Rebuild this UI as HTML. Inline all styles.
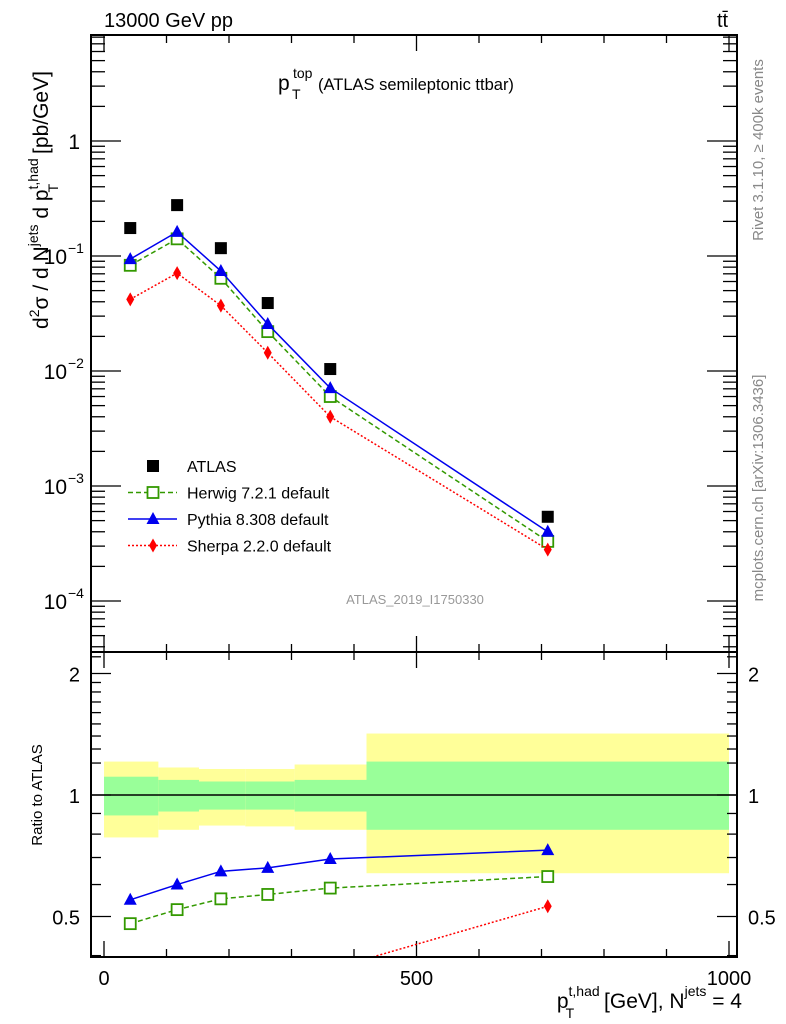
<!DOCTYPE html>
<html><head><meta charset="utf-8"><style>
html,body{margin:0;padding:0;background:#fff;}
svg{display:block;font-family:"Liberation Sans",sans-serif;}
</style></head><body>
<svg id="chart" width="786" height="1024" viewBox="0 0 786 1024" xmlns="http://www.w3.org/2000/svg">
<g id="bands"></g>
<g id="ticks"></g>
<g id="series"></g>
<rect x="91" y="35" width="646" height="617" fill="none" stroke="#000" stroke-width="2"/>
<rect x="91" y="652" width="646" height="305" fill="none" stroke="#000" stroke-width="2"/>
<text x="104" y="27" font-size="20">13000 GeV pp</text>
<text x="717" y="27" font-size="20">tt̄</text>
<g>
<text x="278" y="90" font-size="21">p</text>
<text x="293" y="78" font-size="14">top</text>
<text x="292" y="99" font-size="14">T</text>
<text x="318" y="90" font-size="16.5">(ATLAS semileptonic ttbar)</text>
</g>
<text x="415" y="604" font-size="13" fill="#999" text-anchor="middle">ATLAS_2019_I1750330</text>
<text transform="translate(763,150) rotate(-90)" font-size="15" fill="#888" text-anchor="middle">Rivet 3.1.10, ≥ 400k events</text>
<text transform="translate(763,488) rotate(-90)" font-size="15" fill="#888" text-anchor="middle">mcplots.cern.ch [arXiv:1306.3436]</text>
<text transform="translate(48,200) rotate(-90)" font-size="21" text-anchor="middle">d<tspan font-size="14" dy="-9">2</tspan><tspan dy="9">σ / d N</tspan><tspan font-size="14" dy="-10">jets</tspan><tspan dy="10"> d p</tspan><tspan font-size="14" dy="-10">t,had</tspan><tspan font-size="14" dx="-34" dy="20">T</tspan><tspan dx="24" dy="-10"> [pb/GeV]</tspan></text>
<text transform="translate(42,795) rotate(-90)" font-size="15" text-anchor="middle">Ratio to ATLAS</text>
<text x="742" y="1008" font-size="21" text-anchor="end">p<tspan font-size="14" dy="-12">t,had</tspan><tspan font-size="14" dx="-34" dy="22">T</tspan><tspan dx="24" dy="-10"> [GeV], N</tspan><tspan font-size="14" dy="-12">jets</tspan><tspan dy="12"> = 4</tspan></text>
<g id="legend"></g>
</svg>
<script>
const xVals=[42,117,187,262,362,710];
const atlas=[0.175,0.277,0.117,0.039,0.0104,0.00054];
const herwig=[0.083,0.141,0.064,0.022,0.006,0.00033];
const pythia=[0.094,0.162,0.074,0.0256,0.0071,0.0004];
const sherpa=[0.042,0.071,0.037,0.0144,0.004,0.00028];
const ratioHerwig=[0.48,0.52,0.553,0.567,0.588,0.628];
const ratioPythia=[0.55,0.60,0.647,0.66,0.694,0.73];
const ratioSherpa=[0.24,0.25,0.3,0.35,0.37,0.53];
const binEdges=[0,87,152,226,305,420,1000];
const yellowUp=[1.21,1.17,1.16,1.16,1.19,1.42];
const greenUp=[1.11,1.09,1.08,1.08,1.09,1.21];
const greenLow=[0.89,0.91,0.92,0.92,0.91,0.82];
const yellowLow=[0.785,0.82,0.84,0.836,0.82,0.64];
const xTicks=[0,500,1000];
const yTicks=[1,0.1,0.01,0.001,0.0001];
const ratioTicks=[0.5,1,2];

const NS="http://www.w3.org/2000/svg";
const X=v=>104+v*0.625;
const Y=v=>141-115*Math.log10(v);
const R=v=>795-121.5*Math.log2(v);
function mk(parent,tag,attrs){const e=document.createElementNS(NS,tag);for(const k in attrs)e.setAttribute(k,attrs[k]);document.getElementById(parent).appendChild(e);return e;}

for(let i=0;i<yellowUp.length;i++){
 const x0=X(binEdges[i]),x1=X(binEdges[i+1]);
 let e=mk('bands','rect',{x:x0,y:R(yellowUp[i]),width:x1-x0,height:R(yellowLow[i])-R(yellowUp[i]),fill:'#ffff99'});
 
 
 e=mk('bands','rect',{x:x0,y:R(greenUp[i]),width:x1-x0,height:R(greenLow[i])-R(greenUp[i]),fill:'#99ff99'});
 
 
}
let ref=mk('bands','line',{x1:91,x2:737,y1:R(1),y2:R(1),stroke:'#000','stroke-width':1.5});



function tk(x1,y1,x2,y2){const e=mk('ticks','line',{x1,y1,x2,y2,stroke:'#000','stroke-width':1.3});}
function lbl(x,y,txt,anchor,size){const e=mk('ticks','text',{x,y,'font-size':size||20,'text-anchor':anchor});e.textContent=txt;return e;}
for(let v=0;v<=1000;v+=100){
 const big=v%500===0, l=big?16:8, x=X(v);
 tk(x,652,x,652-l);tk(x,35,x,35+l);tk(x,652,x,652+l);tk(x,957,x,957-l);
}
xTicks.forEach(v=>lbl(X(v),985,String(v),'middle',20));
for(let d=-5;d<=0;d++){for(let m=1;m<=9;m++){const v=m*Math.pow(10,d),y=Y(v);if(y<35||y>652)continue;const l=m===1?30:14;tk(91,y,91+l,y);tk(737,y,737-l,y);}}
yTicks.forEach(v=>{const y=Y(v);
 if(v===1){lbl(80,y+8,'1','end',21);}else{const e=Math.round(Math.log10(v));lbl(67,y+8,'10','end',21);const s=mk('ticks','text',{x:68,y:y-3,'font-size':14});s.textContent='−'+(-e);}});
[0.4,0.6,0.7,0.8,0.9,1.2,1.3,1.4,1.5,1.6,1.7,1.8,1.9,2.2].forEach(v=>{const y=R(v);if(y<652||y>957)return;tk(91,y,101,y);tk(737,y,727,y);});
ratioTicks.forEach(v=>{const y=R(v);tk(91,y,111,y);tk(737,y,717,y);lbl(80,y+8,String(v),'end',20);lbl(748,y+8,String(v),'start',20);});

function marker(g,type,x,y,color){
 let e;
 if(type==='sq')e=mk(g,'rect',{x:x-6,y:y-6,width:12,height:12,fill:'#000'});
 else if(type==='osq')e=mk(g,'rect',{x:x-5.5,y:y-5.5,width:11,height:11,fill:'#fff',stroke:color,'stroke-width':1.8});
 else if(type==='tri')e=mk(g,'polygon',{points:`${x},${y-7} ${x-6.5},${y+5} ${x+6.5},${y+5}`,fill:color});
 else e=mk(g,'polygon',{points:`${x},${y-7} ${x-4},${y} ${x},${y+7} ${x+4},${y}`,fill:color});
 
 
}
function line(pts,color,dash,name){const e=mk('series','polyline',{points:pts.map(p=>p.join(',')).join(' '),fill:'none',stroke:color,'stroke-width':1.5,'stroke-dasharray':dash});}
const series=[[herwig,ratioHerwig,'#339900','5,3','osq','herwig'],[pythia,ratioPythia,'#0000ee','none','tri','pythia'],[sherpa,ratioSherpa,'#ff0000','2,2','dia','sherpa']];
series.forEach(([d,r,c,dash,m,n])=>{
 line(xVals.map((x,i)=>[X(x),Y(d[i])]),c,dash,n+'-line');
 xVals.forEach((x,i)=>marker('series',m,X(x),Y(d[i]),c));
 const pts=[];for(let i=0;i<xVals.length;i++){
  if(i>0&&r[i-1]<0.396&&r[i]>=0.396){const x0=X(xVals[i-1]),y0=R(r[i-1]),x1=X(xVals[i]),y1=R(r[i]);const t=(957-y0)/(y1-y0);pts.push([x0+(x1-x0)*t,957]);}
  if(r[i]>=0.396)pts.push([X(xVals[i]),R(r[i])]);}
 line(pts,c,dash,n+'-ratio-line');
 xVals.forEach((x,i)=>{if(r[i]>=0.396)marker('series',m,X(x),R(r[i]),c);});
});
xVals.forEach((x,i)=>marker('series','sq',X(x),Y(atlas[i]),'#000'));

const leg=[['ATLAS','sq','#000',null],['Herwig 7.2.1 default','osq','#339900','5,3'],['Pythia 8.308 default','tri','#0000ee','none'],['Sherpa 2.2.0 default','dia','#ff0000','2,2']];
leg.forEach(([t,m,c,dash],i)=>{const y=466+i*26.5;
 if(dash){const e=mk('legend','line',{x1:128,x2:177,y1:y,y2:y,stroke:c,'stroke-width':1.5,'stroke-dasharray':dash});}
 marker('legend',m,153,y,c);
 const tx=mk('legend','text',{x:187,y:y+6,'font-size':16});tx.textContent=t;
 
 
});
</script>
</body></html>
